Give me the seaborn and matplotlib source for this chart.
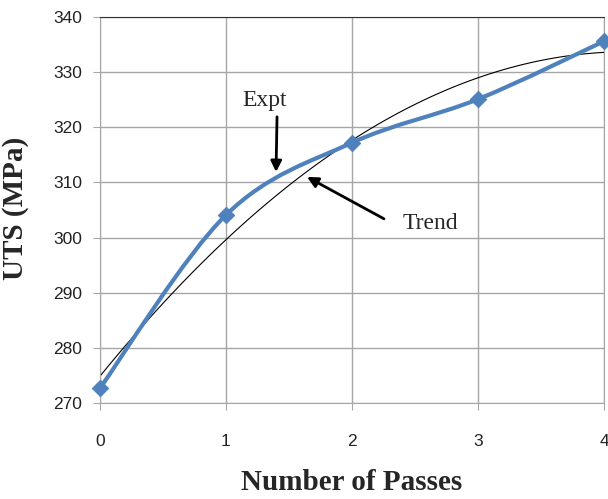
import numpy as np
import pandas as pd
import seaborn as sns
import matplotlib.pyplot as plt
from matplotlib.path import Path
from matplotlib.patches import PathPatch

passes = [0, 1, 2, 3, 4]
uts = [272.7, 304.1, 317.2, 325.1, 335.6]
x_ticks = [0, 1, 2, 3, 4]
y_ticks = [270, 280, 290, 300, 310, 320, 330, 340]

df = pd.DataFrame({'passes': passes, 'uts': uts})

sns.set_style('white')
plt.rcParams['font.family'] = ['Liberation Sans', 'DejaVu Sans']

fig = plt.figure(figsize=(6.08, 4.99), dpi=100)
ax = fig.add_axes([100 / 608, 1 - 403 / 499, 504 / 608, 386 / 499])

blue = '#4f81bd'

# quadratic trend line (Excel-style polynomial trendline)
sns.regplot(data=df, x='passes', y='uts', order=2, ci=None, scatter=False,
            line_kws=dict(color='black', lw=0.8), ax=ax)

# smoothed experimental curve (Catmull-Rom style bezier through the points)
pts = np.column_stack([df['passes'], df['uts']]).astype(float)
verts = [pts[0]]
codes = [Path.MOVETO]
for i in range(len(pts) - 1):
    p0 = pts[max(i - 1, 0)]
    p1 = pts[i]
    p2 = pts[i + 1]
    p3 = pts[min(i + 2, len(pts) - 1)]
    c1 = p1 + (p2 - p0) / 6
    c2 = p2 - (p3 - p1) / 6
    verts += [c1, c2, p2]
    codes += [Path.CURVE4] * 3
ax.add_patch(PathPatch(Path(verts, codes), fill=False, edgecolor=blue, lw=3, zorder=3))
sns.scatterplot(data=df, x='passes', y='uts', marker='D', s=70, color=blue,
                edgecolor=blue, zorder=4, ax=ax, clip_on=False)

ax.set_xlim(0, 4)
ax.set_ylim(270, 340)
ax.set_xticks(x_ticks)
ax.set_yticks(y_ticks)
ax.grid(True, color='#a6a6a6', lw=1)
ax.set_axisbelow(True)
for s in ['left', 'bottom', 'right']:
    ax.spines[s].set_color('#a6a6a6')
ax.spines['top'].set_color('#333333')
ax.tick_params(axis='both', labelsize=12.5, colors='#222222', length=5,
               color='#a6a6a6', direction='out')
ax.tick_params(axis='x', pad=17, bottom=True)
ax.tick_params(axis='y', pad=8, left=True)

ax.set_xlabel('Number of Passes', family='Liberation Serif', fontsize=21,
              fontweight='bold')
ax.xaxis.set_label_coords(0.5, (403 - 469) / 386)
ax.set_ylabel('UTS (MPa)', family='Liberation Serif', fontsize=21,
              fontweight='bold')
ax.yaxis.set_label_coords(-71 / 504, (403 - 208) / 386)

# annotations
ax.text(1.31, 324.9, 'Expt', family='Liberation Serif', fontsize=17,
        ha='center', va='center')
ax.annotate('', xy=(1.397, 311.9), xytext=(1.405, 321.9),
            arrowprops=dict(arrowstyle='-|>', color='black', lw=2,
                            mutation_scale=16, shrinkA=0, shrinkB=0))
ax.text(2.62, 302.5, 'Trend', family='Liberation Serif', fontsize=17,
        ha='center', va='center')
ax.annotate('', xy=(1.643, 311.0), xytext=(2.254, 303.4),
            arrowprops=dict(arrowstyle='-|>', color='black', lw=2,
                            mutation_scale=16, shrinkA=0, shrinkB=0))

fig.savefig('out.png', dpi=100)
